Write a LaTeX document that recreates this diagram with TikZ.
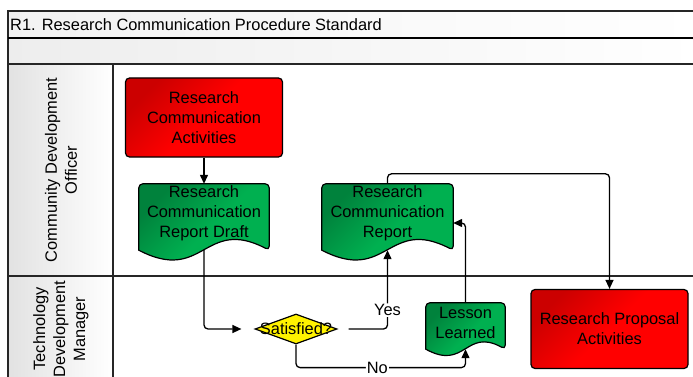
\documentclass[tikz,border=0pt]{standalone}
\usepackage{fontspec}
\setmainfont{Liberation Sans}
\usetikzlibrary{shapes.geometric,arrows.meta,calc,backgrounds}

\definecolor{actdark}{RGB}{204,0,0}
\definecolor{actlight}{RGB}{255,0,0}
\definecolor{docdark}{RGB}{0,130,60}
\definecolor{doclight}{RGB}{0,176,80}
\definecolor{headgray}{RGB}{226,226,226}

% Document outline: flat top with rounded corners, wavy bottom edge.
% #1 node name, #2 drop from node.south to the wave base, #3 wave control offset
\newcommand\docoutline[3]{%
  \path[docfill] let \p1=(#1.north west), \p2=(#1.south east) in
    [rounded corners=4pt] (\x1,\y2-#2) -- (\x1,\y1) -- (\x2,\y1) -- (\x2,\y2-#2)
    [sharp corners] .. controls ({(\x1+\x2)/2},\y2-#2+#3) and ({(\x1+\x2)/2},\y2-#2-#3) .. (\x1,\y2-#2) -- cycle;
}

\begin{document}
\begin{tikzpicture}[x=1pt,y=-1pt,
  font=\fontsize{16.4}{20}\selectfont,
  frame/.style={line width=1.6pt, draw=black!85},
  conn/.style={line width=1.3pt, rounded corners=4pt, -{Triangle[length=9pt,width=8pt]}},
  actbox/.style={draw, line width=1.2pt, rounded corners=4pt, align=center,
    minimum width=157pt, minimum height=79pt,
    shading=axis, top color=actdark, bottom color=actlight, middle color=actlight, shading angle=45},
  docnode/.style={align=center, inner sep=0pt},
  docfill/.style={draw, line width=1.2pt,
    shading=axis, top color=docdark, bottom color=doclight, middle color=doclight, shading angle=45},
  decision/.style={diamond, draw, line width=1.2pt, fill=yellow, inner sep=0pt,
    minimum width=82pt, minimum height=30pt},
  lbl/.style={fill=white, inner sep=1pt},
  lanelabel/.style={rotate=90, align=center, inner sep=0pt}]

\clip (0,0) rectangle (693,377);

% pool frame, title rows and lane headers
\begin{pgfonlayer}{background}
  \fill[white] (0,0) rectangle (693,377);
  \shade[left color=gray!10, right color=white] (8,11) rectangle (700,38);
  \shade[left color=gray!14, right color=white] (8,38) rectangle (700,64);
  \shade[left color=headgray, right color=white] (8,64) rectangle (113,276);
  \shade[left color=headgray, right color=white] (8,276) rectangle (113,390);
  \draw[frame] (700,11) -- (8,11) -- (8,390);
  \draw[frame, draw=black] (8,38) -- (700,38);
  \draw[frame] (8,64) -- (700,64);
  \draw[frame] (8,276) -- (700,276);
  \draw[frame] (113,64) -- (113,390);
\end{pgfonlayer}

\node[anchor=base west, inner sep=0pt] (title) at (10,30.5) {R1. Research Communication Procedure Standard};

\node[lanelabel] (lane1) at (61,170) {Community Development\\Officer};
\node[lanelabel] (lane2) at (61,329) {Technology\\Development\\Manager};

% process steps
\node[actbox] (rca) at (204,117.5) {Research\\Communication\\Activities};
\node[docnode, minimum width=130pt, minimum height=58pt] (draft) at (204,213) {Research\\Communication\\Report Draft};
\node[docnode, minimum width=131pt, minimum height=58pt] (rep) at (387.5,213) {Research\\Communication\\Report};
\node[docnode, minimum width=79pt, minimum height=40pt] (less) at (465.5,323) {Lesson\\Learned};
\node[decision] (sat) at (296,329) {};
\node[inner sep=0pt] (sattext) at (sat.center) {Satisfied?};
\node[actbox] (rpa) at (609.5,329) {Research Proposal\\Activities};

\begin{pgfonlayer}{background}
  \docoutline{draft}{8pt}{34pt}
  \docoutline{rep}{8pt}{34pt}
  \docoutline{less}{6pt}{22pt}
\end{pgfonlayer}

\coordinate (draft-b) at ([yshift=-8pt]draft.south);
\coordinate (rep-b) at ([yshift=-8pt]rep.south);
\coordinate (less-b) at ([yshift=-6pt]less.south);

% connectors
\draw[conn] (rca.south) -- (draft.north);
\draw[conn, shorten >=13pt] (draft-b) |- (sat.west);
\draw[conn, shorten <=11pt] (sat.east) -| node[lbl, pos=0.62] (yes) {Yes} (rep-b);
\draw[conn] (sat.south) -- ++(0,23) -| node[lbl, pos=0.24] (no) {No} (less-b);
\draw[conn] (less.north) |- ([yshift=-10pt]rep.east);
\draw[conn] (rep.north) -- ++(0,-10) -| (rpa.north);

\end{tikzpicture}
\end{document}
